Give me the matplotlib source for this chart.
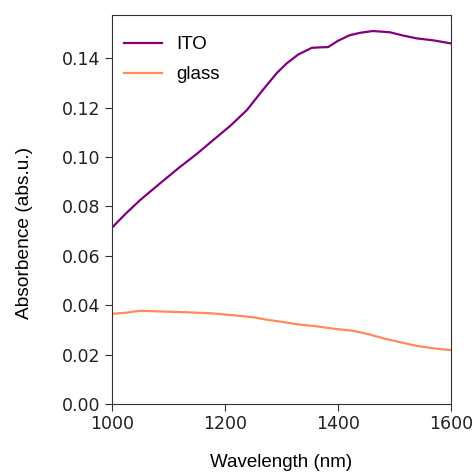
import numpy as np
import matplotlib.pyplot as plt

# values
wl_ito = [1000, 1025, 1050, 1085, 1120, 1150, 1179, 1210, 1239, 1265, 1292, 1310, 1330,
          1354, 1370, 1383, 1400, 1421, 1440, 1462, 1492, 1515, 1540, 1570, 1600]
abs_ito = [0.0714, 0.0772, 0.0826, 0.0893, 0.0959, 0.1012, 0.1068, 0.1127, 0.1190, 0.1265,
           0.1340, 0.1380, 0.1415, 0.1442, 0.1444, 0.1445, 0.1470, 0.1493, 0.1503, 0.1510,
           0.1505, 0.1492, 0.1480, 0.1472, 0.1460]

wl_glass = [1000, 1025, 1050, 1090, 1132, 1175, 1215, 1250, 1274, 1305, 1333, 1360, 1391,
            1427, 1455, 1480, 1510, 1540, 1570, 1600]
abs_glass = [0.0366, 0.0370, 0.0378, 0.0375, 0.0372, 0.0368, 0.0360, 0.0352, 0.0342, 0.0332,
             0.0322, 0.0316, 0.0306, 0.0297, 0.0283, 0.0267, 0.0251, 0.0236, 0.0226, 0.0219]

x_ticks = [1000, 1200, 1400, 1600]
y_ticks = [0.00, 0.02, 0.04, 0.06, 0.08, 0.10, 0.12, 0.14]

fig = plt.figure(figsize=(4.76, 4.75), dpi=100)
ax = fig.add_axes([0.235, 0.149, 0.712, 0.819])

ax.plot(wl_ito, abs_ito, color='purple', linewidth=1.6, label='ITO')
ax.plot(wl_glass, abs_glass, color='#ff8a5c', linewidth=1.6, label='glass')

ax.set_xlim(1000, 1600)
ax.set_ylim(0, 0.1574)
ax.set_xticks(x_ticks)
ax.set_yticks(y_ticks)
ax.set_yticklabels(['%.2f' % v for v in y_ticks])
ax.tick_params(labelsize=12.5, length=5, pad=3, color='#333333', labelcolor='#222222')
for s in ax.spines.values():
    s.set_color('#333333')

ax.set_xlabel('Wavelength (nm)', family='Liberation Sans', fontsize=13.5, labelpad=15)
ax.set_ylabel('Absorbence (abs.u.)', family='Liberation Sans', fontsize=13.8)
ax.yaxis.set_label_coords(-0.233, 0.44)

leg = ax.legend(loc='upper left', frameon=False, prop={'family': 'Liberation Sans', 'size': 13.5},
                handlelength=2.0, borderaxespad=0.4, labelspacing=0.7,
                bbox_to_anchor=(-0.008, 0.985))

fig.savefig('out.png', dpi=100)
